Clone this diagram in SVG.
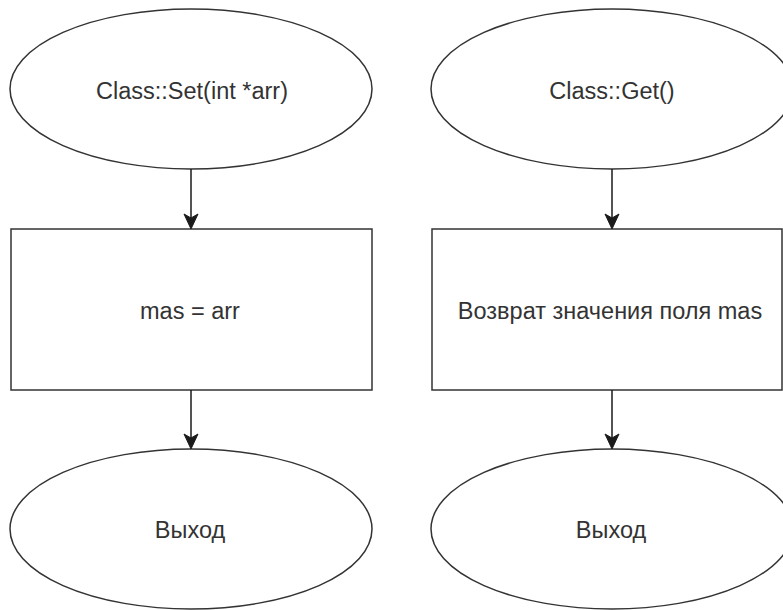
<svg xmlns="http://www.w3.org/2000/svg" width="783" height="610" viewBox="0 0 783 610">
<style>
.shape{fill:#ffffff;stroke:#333333;stroke-width:1.5}
.conn{stroke:#1a1a1a;stroke-width:1.5;fill:none}
.head{fill:#1a1a1a;stroke:#1a1a1a;stroke-width:1}
.lbl{font-family:"Liberation Sans",Arial,sans-serif;font-size:23.5px;fill:#333333;text-anchor:middle}
</style>
<rect width="783" height="610" fill="#ffffff"/>
<g id="set-start">
<ellipse class="shape" cx="191" cy="89" rx="181" ry="80"/>
<text class="lbl" x="192" y="99">Class::Set(int *arr)</text>
</g>
<g id="set-assign">
<rect class="shape" x="11" y="229" width="361" height="161"/>
<text class="lbl" x="190" y="319">mas = arr</text>
</g>
<g id="set-exit">
<ellipse class="shape" cx="191" cy="529" rx="181" ry="80"/>
<text class="lbl" x="190" y="538">Выход</text>
</g>
<g id="get-start">
<ellipse class="shape" cx="612" cy="89" rx="181" ry="80"/>
<text class="lbl" x="612" y="99">Class::Get()</text>
</g>
<g id="get-return">
<rect class="shape" x="432" y="229" width="350" height="161"/>
<text class="lbl" x="610" y="319">Возврат значения поля mas</text>
</g>
<g id="get-exit">
<ellipse class="shape" cx="612" cy="529" rx="181" ry="80"/>
<text class="lbl" x="611" y="538">Выход</text>
</g>
<g id="connectors">
<line class="conn" x1="191" y1="169" x2="191" y2="218"/>
<polygon class="head" points="191,229 184,214 191,218 198,214"/>
<line class="conn" x1="191" y1="390" x2="191" y2="438"/>
<polygon class="head" points="191,449 184,434 191,438 198,434"/>
<line class="conn" x1="612" y1="169" x2="612" y2="218"/>
<polygon class="head" points="612,229 605,214 612,218 619,214"/>
<line class="conn" x1="612" y1="390" x2="612" y2="438"/>
<polygon class="head" points="612,449 605,434 612,438 619,434"/>
</g>
</svg>
